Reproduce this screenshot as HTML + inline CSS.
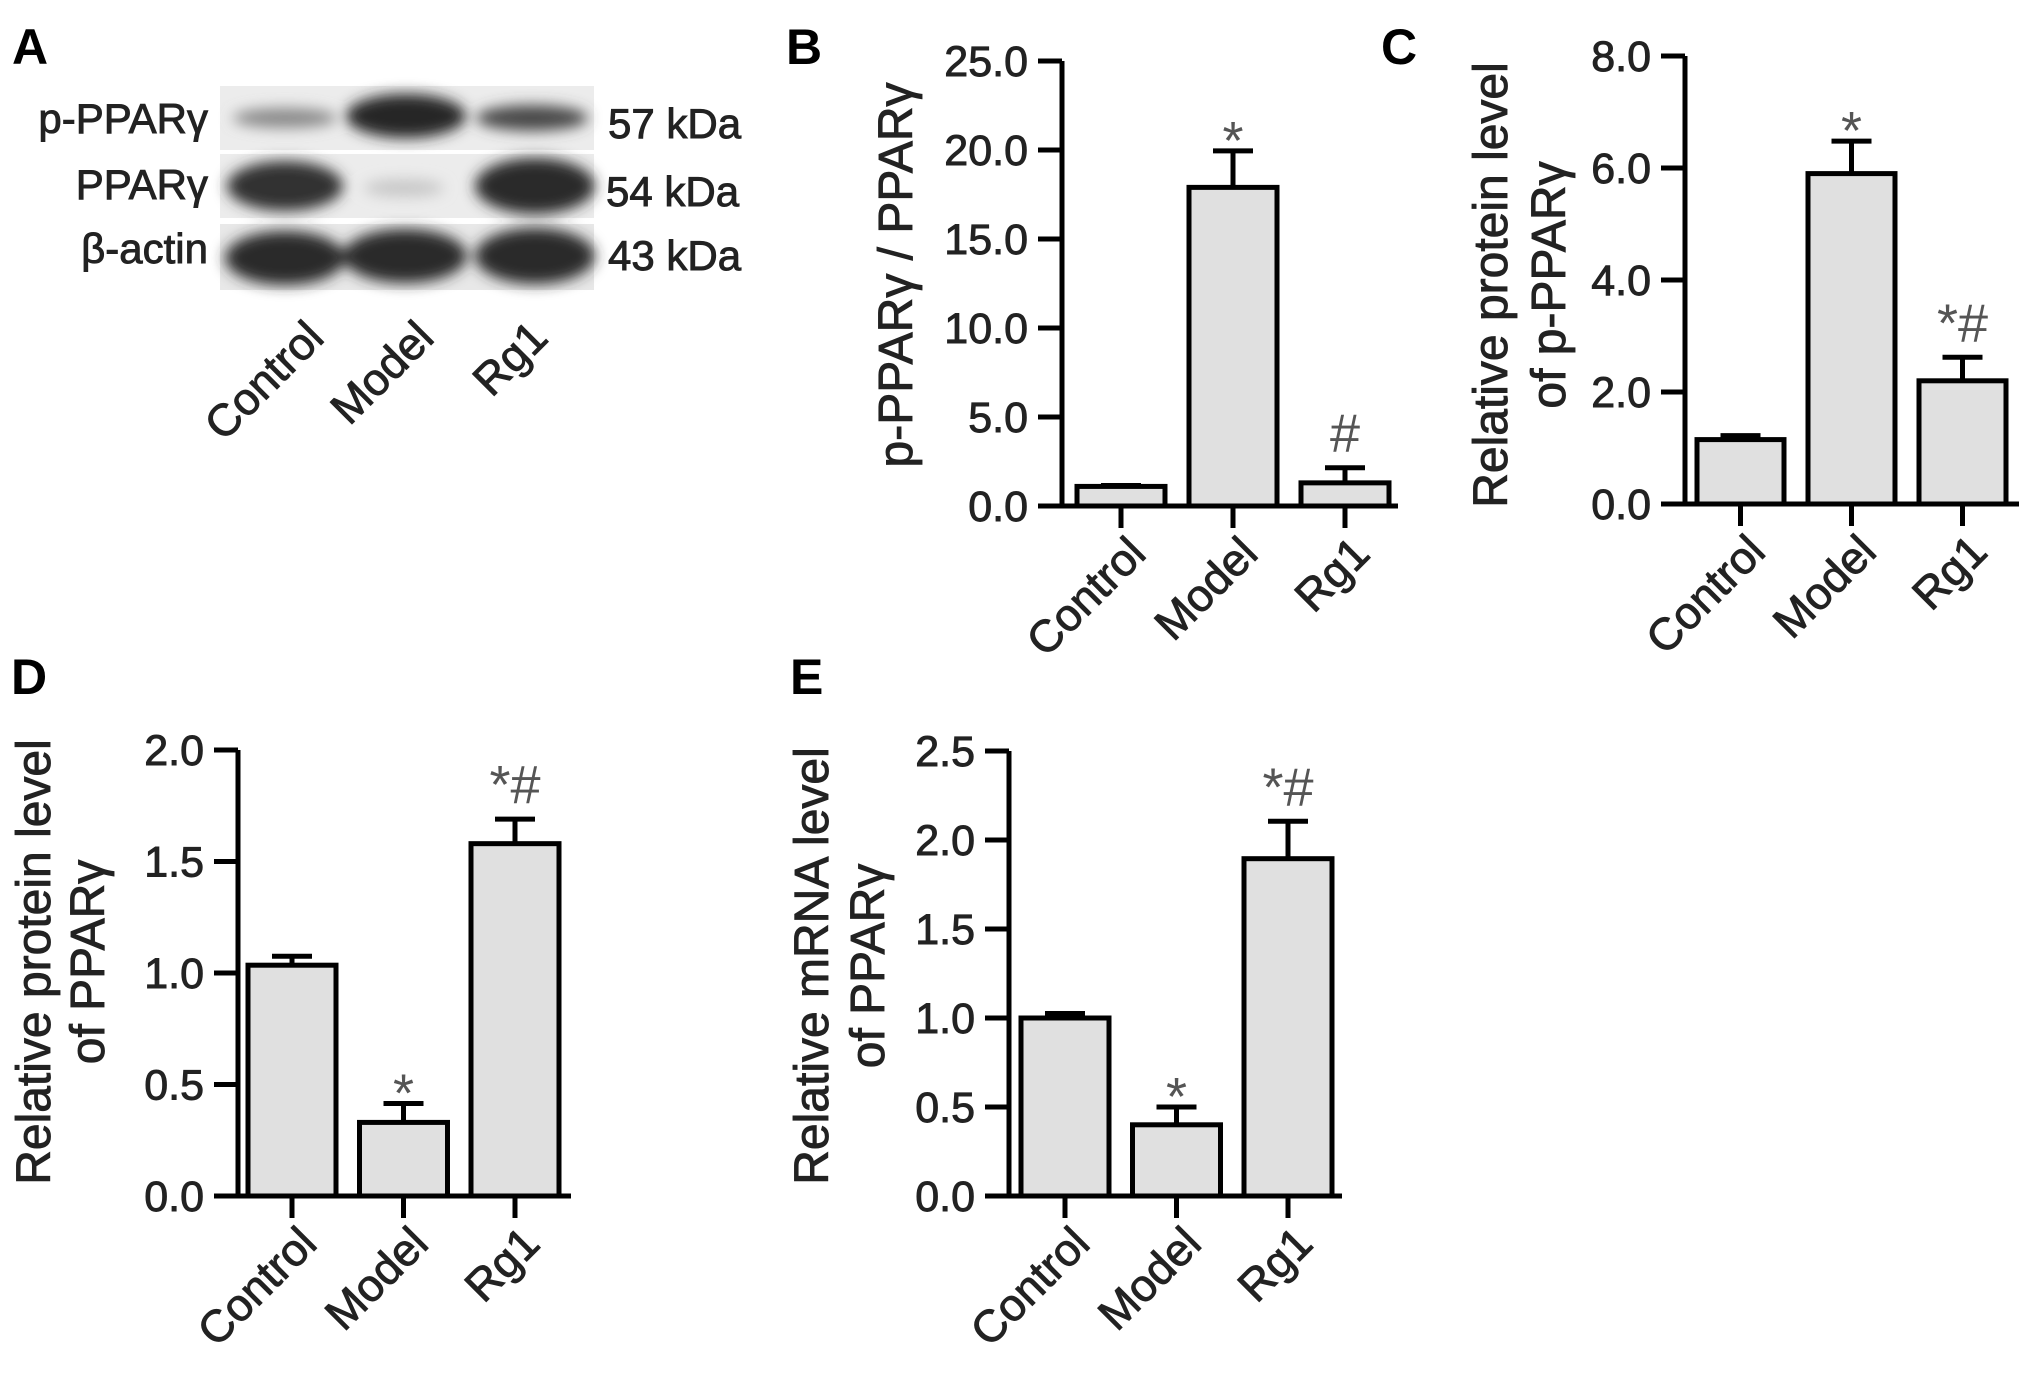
<!DOCTYPE html>
<html><head><meta charset="utf-8"><style>
html,body{margin:0;padding:0;background:#fff;}
svg{display:block;font-family:"Liberation Sans",Arial,sans-serif;}
.w{stroke:#222;stroke-width:0.9;}
</style></head><body>
<svg id="fig" width="2031" height="1382" viewBox="0 0 2031 1382" xmlns="http://www.w3.org/2000/svg">
<defs>
<filter id="blur" x="-20%" y="-50%" width="140%" height="200%"><feGaussianBlur stdDeviation="7"/></filter>
</defs>
<g>
<text x="12" y="64" font-size="50" font-weight="bold">A</text>
<rect x="220" y="86" width="374" height="64" fill="#ececec"/>
<rect x="220" y="154" width="374" height="64" fill="#ececec"/>
<rect x="220" y="224" width="374" height="66" fill="#e8e8e8"/>
<g filter="url(#blur)">
<ellipse cx="285" cy="118" rx="52" ry="10" fill="#8a8a8a"/>
<ellipse cx="406" cy="116" rx="60" ry="22" fill="#262626"/>
<ellipse cx="532" cy="118" rx="56" ry="13" fill="#4a4a4a"/>
<ellipse cx="285" cy="186" rx="58" ry="25" fill="#333"/>
<ellipse cx="404" cy="188" rx="40" ry="9" fill="#c8c8c8"/>
<ellipse cx="535" cy="186" rx="60" ry="28" fill="#2c2c2c"/>
<ellipse cx="285" cy="258" rx="60" ry="27" fill="#2c2c2c"/>
<ellipse cx="405" cy="256" rx="62" ry="27" fill="#2c2c2c"/>
<ellipse cx="535" cy="256" rx="60" ry="28" fill="#2c2c2c"/>
</g>
<g font-size="42" fill="#222" class="w">
<text x="208" y="133" text-anchor="end">p-PPARγ</text>
<text x="208" y="199" text-anchor="end">PPARγ</text>
<text x="208" y="263" text-anchor="end">β-actin</text>
<text x="608" y="138">57 kDa</text>
<text x="606" y="206">54 kDa</text>
<text x="608" y="270">43 kDa</text>
</g>
<g font-size="45" fill="#222" class="w">
<text transform="translate(326,340) rotate(-45)" text-anchor="end">Control</text>
<text transform="translate(436,340) rotate(-45)" text-anchor="end">Model</text>
<text transform="translate(550,340) rotate(-45)" text-anchor="end">Rg1</text>
</g>
</g>
<text x="786" y="64" font-size="50" font-weight="bold">B</text>
<text x="1381" y="64" font-size="50" font-weight="bold">C</text>
<text x="11" y="694" font-size="50" font-weight="bold">D</text>
<text x="790" y="694" font-size="50" font-weight="bold">E</text>
</svg>
<script>
const categories = ["Control", "Model", "Rg1"];
const bValues = [1.1, 17.9, 1.3];
const bErrors = [0.05, 2.05, 0.85];
const bMarks = ["", "*", "#"];
const bTicks = [0, 5, 10, 15, 20, 25];
const bTickLabels = ["0.0", "5.0", "10.0", "15.0", "20.0", "25.0"];
const cValues = [1.15, 5.9, 2.2];
const cErrors = [0.07, 0.58, 0.42];
const cMarks = ["", "*", "*#"];
const cTicks = [0, 2, 4, 6, 8];
const cTickLabels = ["0.0", "2.0", "4.0", "6.0", "8.0"];
const dValues = [1.035, 0.33, 1.58];
const dErrors = [0.04, 0.085, 0.11];
const dMarks = ["", "*", "*#"];
const dTicks = [0, 0.5, 1, 1.5, 2];
const dTickLabels = ["0.0", "0.5", "1.0", "1.5", "2.0"];
const eValues = [1.0, 0.40, 1.895];
const eErrors = [0.025, 0.10, 0.21];
const eMarks = ["", "*", "*#"];
const eTicks = [0, 0.5, 1, 1.5, 2, 2.5];
const eTickLabels = ["0.0", "0.5", "1.0", "1.5", "2.0", "2.5"];

const NS = "http://www.w3.org/2000/svg";
const svg = document.getElementById("fig");
function mk(tag, attrs, parent) {
  const el = document.createElementNS(NS, tag);
  for (const k in attrs) el.setAttribute(k, attrs[k]);
  parent.appendChild(el);
  return el;
}
function drawPanel(id, geo, values, errors, marks, ticks, tickLabels, titleLines) {
  const g = mk("g", {}, svg);
  
  
  const maxV = ticks[ticks.length - 1];
  const y = v => geo.y0 - (v / maxV) * (geo.y0 - geo.yTop);
  const xLeft = i => geo.axisX + geo.offset + i * geo.step;
  values.forEach((v, i) => {
    const r = mk("rect", {x: xLeft(i), y: y(v), width: geo.bw, height: geo.y0 - y(v), fill: "#e0e0e0", stroke: "#000", "stroke-width": 5}, g);
    
    
    const cx = xLeft(i) + geo.bw / 2;
    const ey = y(v + errors[i]);
    const e = mk("path", {d: `M${cx},${y(v)} V${ey} M${cx-20},${ey} H${cx+20}`, stroke: "#000", "stroke-width": 5, fill: "none"}, g);
    
    
    if (marks[i]) {
      const t = mk("text", {x: cx, y: marks[i] === "*" ? ey + 8 : ey - 16, "text-anchor": "middle", "font-size": 54, fill: "#555"}, g);
      t.textContent = marks[i];
      
      
    }
    const tk = mk("line", {x1: cx, x2: cx, y1: geo.y0, y2: geo.y0 + 22, stroke: "#000", "stroke-width": 5}, g);
    
    
    const lb = mk("text", {transform: `translate(${cx + 27},${geo.y0 + 50}) rotate(-45)`, "text-anchor": "end", "font-size": 45, fill: "#222", class: "w"}, g);
    lb.textContent = categories[i];
    
    
  });
  const ax = mk("path", {d: `M${geo.axisX},${geo.yTop} V${geo.y0} M${geo.axisX - 24},${geo.y0} H${geo.xEnd}`, stroke: "#000", "stroke-width": 5, fill: "none"}, g);
  
  
  ticks.forEach((t, i) => {
    const l = mk("line", {x1: geo.axisX - 24, x2: geo.axisX, y1: y(t), y2: y(t), stroke: "#000", "stroke-width": 5}, g);
    
    
    const tx = mk("text", {x: geo.axisX - 34, y: y(t) + 15, "text-anchor": "end", "font-size": 43, fill: "#222", class: "w"}, g);
    tx.textContent = tickLabels[i];
    
    
  });
  titleLines.forEach((line) => {
    const tt = mk("text", {transform: `translate(${line.x},${line.y}) rotate(-90)`, "text-anchor": "middle", "font-size": line.fs, fill: "#222", class: "w"}, g);
    tt.textContent = line.text;
    
    
  });
}
drawPanel("b", {axisX: 1062, y0: 506, yTop: 61, offset: 15, step: 112, bw: 88, xEnd: 1398},
  bValues, bErrors, bMarks, bTicks, bTickLabels,
  [{text: "p-PPARγ / PPARγ", x: 912, y: 275, fs: 48}]);
drawPanel("c", {axisX: 1685, y0: 504, yTop: 56, offset: 12, step: 111, bw: 87, xEnd: 2019},
  cValues, cErrors, cMarks, cTicks, cTickLabels,
  [{text: "Relative protein level", x: 1507, y: 285, fs: 48}, {text: "of p-PPARγ", x: 1565, y: 285, fs: 48}]);
drawPanel("d", {axisX: 238, y0: 1196, yTop: 750, offset: 10, step: 111.5, bw: 88, xEnd: 571},
  dValues, dErrors, dMarks, dTicks, dTickLabels,
  [{text: "Relative protein level", x: 50, y: 962, fs: 48}, {text: "of PPARγ", x: 104, y: 962, fs: 48}]);
drawPanel("e", {axisX: 1009, y0: 1196, yTop: 751, offset: 12, step: 111.5, bw: 88, xEnd: 1342},
  eValues, eErrors, eMarks, eTicks, eTickLabels,
  [{text: "Relative mRNA level", x: 828, y: 966, fs: 48}, {text: "of PPARγ", x: 884, y: 966, fs: 48}]);
</script>
</body></html>
